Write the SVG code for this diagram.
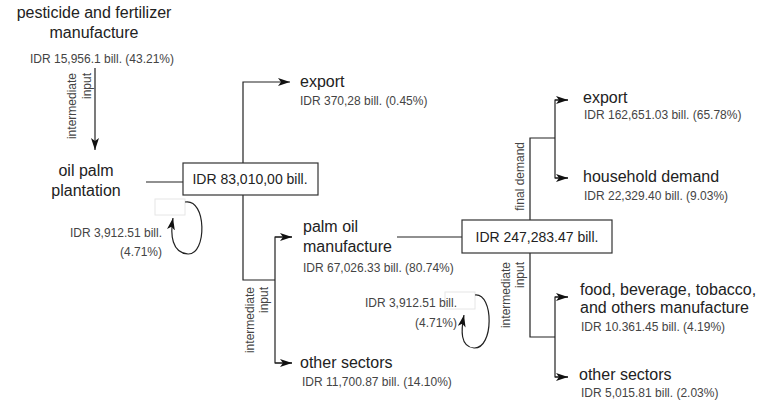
<svg xmlns="http://www.w3.org/2000/svg" width="765" height="406" viewBox="0 0 765 406">
<defs>
<marker id="ah" viewBox="0 0 12 8" refX="12" refY="4" markerWidth="12" markerHeight="8" markerUnits="userSpaceOnUse" orient="auto">
<path d="M0,0 L12,4 L0,8 L3,4 Z" fill="#111"/>
</marker>
<style>
text{font-family:"Liberation Sans",Arial,sans-serif}
.big{font-size:16px;fill:#222}
.sm{font-size:12px;fill:#444}
.box{font-size:14px;fill:#222}
.rot{font-size:12px;fill:#444}
.ln{fill:none;stroke:#222;stroke-width:1.2}
.bx{fill:#fff;stroke:#333;stroke-width:1.2}
.ghost{fill:#fff;stroke:#e6e6e6;stroke-width:1}
</style>
</defs>
<rect width="765" height="406" fill="#fff"/>

<g id="connectors">
<line class="ln" x1="95" y1="68" x2="95" y2="150" marker-end="url(#ah)"/>
<line class="ln" x1="146" y1="182" x2="183" y2="182"/>
<polyline class="ln" points="243,163 243,82 290,82" marker-end="url(#ah)"/>
<polyline class="ln" points="243,195 243,280 275,280"/>
<polyline class="ln" points="292,237 275,237 275,363 292,363"/>
<line class="ln" x1="275" y1="237" x2="292" y2="237" marker-end="url(#ah)"/>
<line class="ln" x1="275" y1="363" x2="292" y2="363" marker-end="url(#ah)"/>
<line class="ln" x1="397" y1="237" x2="462" y2="237"/>
<polyline class="ln" points="530,220 530,138 555,138"/>
<polyline class="ln" points="568,100 555,100 555,178 568,178"/>
<line class="ln" x1="555" y1="100" x2="568" y2="100" marker-end="url(#ah)"/>
<line class="ln" x1="555" y1="178" x2="568" y2="178" marker-end="url(#ah)"/>
<polyline class="ln" points="530,253 530,337 555,337"/>
<polyline class="ln" points="568,297 555,297 555,377 568,377"/>
<line class="ln" x1="555" y1="297" x2="568" y2="297" marker-end="url(#ah)"/>
<line class="ln" x1="555" y1="377" x2="568" y2="377" marker-end="url(#ah)"/>
<rect class="ghost" x="155" y="199" width="30" height="16"/>
<path class="ln" d="M185,202 C207,198 207,255 188,254 C172,253 170,235 173,218" marker-end="url(#ah)"/>
<rect class="ghost" x="445" y="292" width="30" height="17"/>
<path class="ln" d="M475,295 C494,293 494,349 474,348 C460,347 461,330 464,315" marker-end="url(#ah)"/>
<text class="rot" transform="translate(76,73) rotate(-90)" text-anchor="end">intermediate</text>
<text class="rot" transform="translate(91,73) rotate(-90)" text-anchor="end">input</text>
<text class="rot" transform="translate(254,287) rotate(-90)" text-anchor="end">intermediate</text>
<text class="rot" transform="translate(268,287) rotate(-90)" text-anchor="end">input</text>
<text class="rot" transform="translate(524,142) rotate(-90)" text-anchor="end">final demand</text>
<text class="rot" transform="translate(510,262) rotate(-90)" text-anchor="end">intermediate</text>
<text class="rot" transform="translate(524,262) rotate(-90)" text-anchor="end">input</text>
<text class="sm" x="162" y="237" text-anchor="end">IDR 3,912.51 bill.</text>
<text class="sm" x="162" y="256" text-anchor="end">(4.71%)</text>
<text class="sm" x="457" y="307" text-anchor="end">IDR 3,912.51 bill.</text>
<text class="sm" x="457" y="327" text-anchor="end">(4.71%)</text>
</g>

<g id="pesticide">
<text class="big" x="94" y="18" text-anchor="middle">pesticide and fertilizer</text>
<text class="big" x="94" y="38" text-anchor="middle">manufacture</text>
<text class="sm" x="102" y="63" text-anchor="middle">IDR 15,956.1 bill. (43.21%)</text>
</g>

<g id="oilpalm">
<text class="big" x="86" y="176" text-anchor="middle">oil palm</text>
<text class="big" x="86" y="196" text-anchor="middle">plantation</text>
</g>

<g id="box1">
<rect class="bx" x="183" y="163" width="135" height="32"/>
<text class="box" x="250" y="184" text-anchor="middle">IDR 83,010,00 bill.</text>
</g>

<g id="export1">
<text class="big" x="300" y="87">export</text>
<text class="sm" x="300" y="105">IDR 370,28 bill. (0.45%)</text>
</g>

<g id="palmoil">
<text class="big" x="303" y="232">palm oil</text>
<text class="big" x="303" y="252">manufacture</text>
<text class="sm" x="303" y="272">IDR 67,026.33 bill. (80.74%)</text>
</g>

<g id="other1">
<text class="big" x="300" y="368">other sectors</text>
<text class="sm" x="302" y="386">IDR 11,700.87 bill. (14.10%)</text>
</g>

<g id="box2">
<rect class="bx" x="462" y="220" width="150" height="33"/>
<text class="box" x="537" y="242" text-anchor="middle">IDR 247,283.47 bill.</text>
</g>

<g id="export2">
<text class="big" x="583" y="103">export</text>
<text class="sm" x="584" y="119">IDR 162,651.03 bill. (65.78%)</text>
</g>

<g id="household">
<text class="big" x="583" y="182">household demand</text>
<text class="sm" x="584" y="200">IDR 22,329.40 bill. (9.03%)</text>
</g>

<g id="food">
<text class="big" x="580" y="295">food, beverage, tobacco,</text>
<text class="big" x="580" y="313">and others manufacture</text>
<text class="sm" x="581" y="331">IDR 10.361.45 bill. (4.19%)</text>
</g>

<g id="other2">
<text class="big" x="579" y="380">other sectors</text>
<text class="sm" x="581" y="397">IDR 5,015.81 bill. (2.03%)</text>
</g>
</svg>
